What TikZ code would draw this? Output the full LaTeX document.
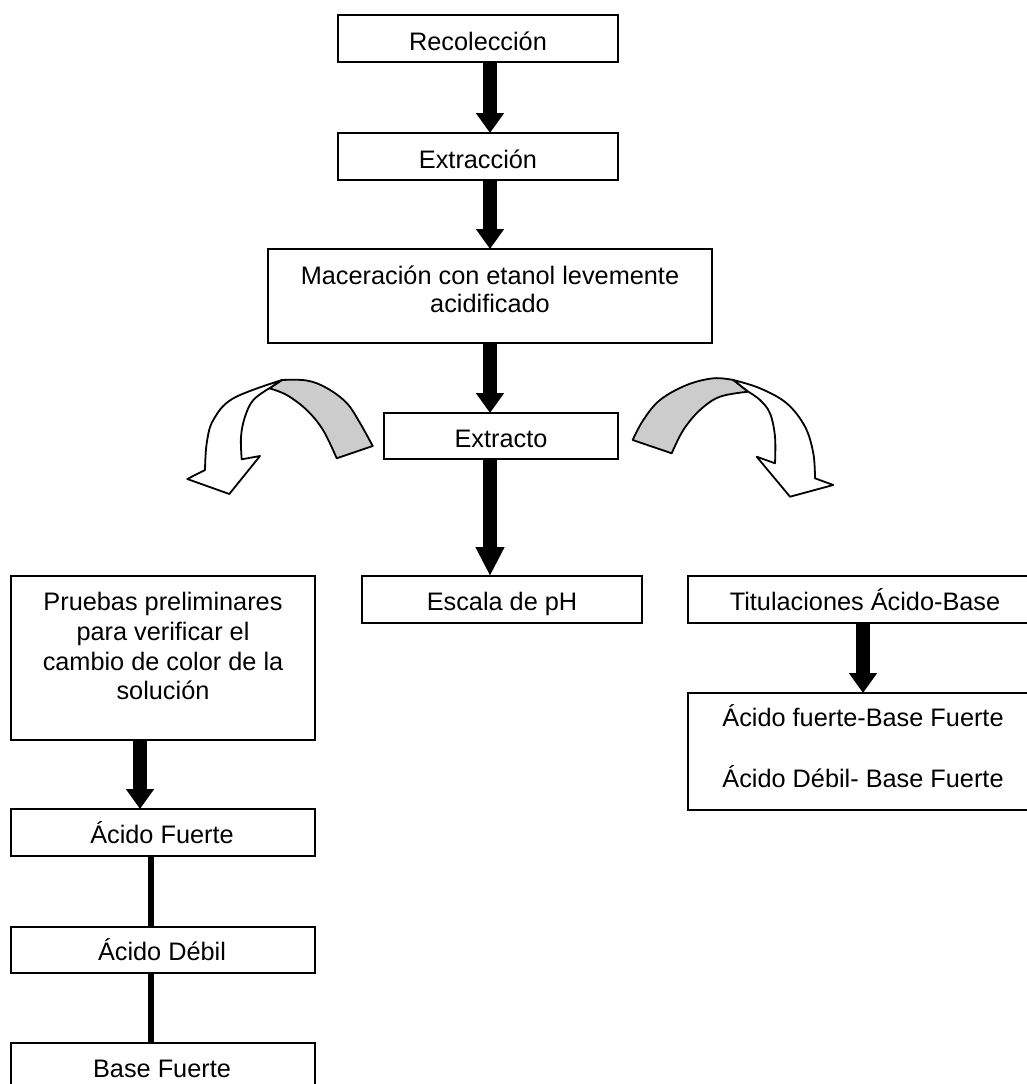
\documentclass[tikz,border=0pt]{standalone}
\usepackage{fontspec}
\setmainfont{Liberation Sans}
\usetikzlibrary{arrows.meta}
\definecolor{bandgray}{HTML}{CCCCCC}
\begin{document}
\begin{tikzpicture}[x=1pt,y=-1pt,
  box/.style={draw=black, line width=1.4pt, rectangle, inner sep=0pt, outer sep=0pt, anchor=north west},
  txt/.style={inner sep=0pt, anchor=base, font=\fontsize{25.3}{29}\selectfont},
  bigarrow/.style={line width=14pt, -{Triangle[width=27pt,length=20pt]}},
  longarrow/.style={line width=14pt, -{Triangle[width=27pt,length=29pt]}},
  link/.style={line width=6pt},
  curvy/.style={draw=black, line width=1.8pt, line join=round}]
\useasboundingbox (0,0) rectangle (1027,1084);
\clip (0,0) rectangle (1027,1084);
\fill[white] (0,0) rectangle (1027,1084);

\coordinate (cx) at (490,0);
\coordinate (lx) at (140,0);
\coordinate (kx) at (151,0);
\coordinate (rx) at (863,0);

% boxes
\node[box, minimum width=280pt, minimum height=47pt] (rec) at (338,15) {};
\node[box, minimum width=280pt, minimum height=47pt] (ext) at (338,133) {};
\node[box, minimum width=444pt, minimum height=94pt] (mac) at (268,249) {};
\node[box, minimum width=234pt, minimum height=46pt] (xto) at (384,413) {};
\node[box, minimum width=280pt, minimum height=47pt] (esc) at (362,576) {};
\node[box, minimum width=354pt, minimum height=47pt] (tit) at (688,576) {};
\node[box, minimum width=354pt, minimum height=117pt] (res) at (688,693) {};
\node[box, minimum width=304pt, minimum height=164pt] (pru) at (11,576) {};
\node[box, minimum width=304pt, minimum height=47pt] (af) at (11,809) {};
\node[box, minimum width=304pt, minimum height=46pt] (ad) at (11,927) {};
\node[box, minimum width=304pt, minimum height=47pt] (bf) at (11,1043) {};

% texts
\node[txt] (trec) at (478,50) {Recolección};
\node[txt] (text) at (478,168) {Extracción};
\node[txt] (tmac1) at (490,284) {Maceración con etanol levemente};
\node[txt] (tmac2) at (490,312) {acidificado};
\node[txt] (txto) at (501,447) {Extracto};
\node[txt] (tesc) at (502,610) {Escala de pH};
\node[txt] (ttit) at (865,610) {Titulaciones Ácido-Base};
\node[txt] (tres1) at (863,726) {Ácido fuerte-Base Fuerte};
\node[txt] (tres2) at (863,787) {Ácido Débil- Base Fuerte};
\node[txt] (tpru1) at (163,610) {Pruebas preliminares};
\node[txt] (tpru2) at (163,640) {para verificar el};
\node[txt] (tpru3) at (163,670) {cambio de color de la};
\node[txt] (tpru4) at (163,699) {solución};
\node[txt] (taf) at (162,843) {Ácido Fuerte};
\node[txt] (tad) at (162,960) {Ácido Débil};
\node[txt] (tbf) at (162,1077) {Base Fuerte};

% block arrows
\draw[bigarrow] (rec.south -| cx) -- (ext.north -| cx);
\draw[bigarrow] (ext.south -| cx) -- (mac.north -| cx);
\draw[bigarrow] (mac.south -| cx) -- (xto.north -| cx);
\draw[longarrow] (xto.south -| cx) -- (esc.north -| cx);
\draw[bigarrow] (pru.south -| lx) -- (af.north -| lx);
\draw[bigarrow] (tit.south -| rx) -- (res.north -| rx);

% plain links
\draw[link] (af.south -| kx) -- (ad.north -| kx);
\draw[link] (ad.south -| kx) -- (bf.north -| kx);

% left curved arrow
\filldraw[curvy, fill=bandgray]
  plot[smooth, tension=0.6] coordinates {(372.7,446) (360,423) (346.7,403) (326.7,388) (306.7,380.5) (282,380)}
  -- (269.3,388.3)
  -- plot[smooth, tension=0.6] coordinates {(269.3,388.3) (286.7,395) (306.7,410) (323,430) (336.7,458.3)}
  -- cycle;
\filldraw[curvy, fill=white]
  plot[smooth, tension=0.6] coordinates {(282,380) (233.3,398.3) (213.3,420) (206.7,443.3) (205,470)}
  -- (187.3,479) -- (229.3,494) -- (260,456) -- (241.7,459.3)
  -- plot[smooth, tension=0.6] coordinates {(241.7,459.3) (241,436.7) (245,416.7) (253.3,400) (269.3,388.3)}
  -- cycle;

% right curved arrow
\filldraw[curvy, fill=bandgray]
  plot[smooth, tension=0.6] coordinates {(632.7,440) (643.3,420) (660,400) (686.7,385) (713.3,378.3) (733.3,380)}
  -- (748.3,391.7)
  -- plot[smooth, tension=0.6] coordinates {(748.3,391.7) (720,396.7) (700,410) (683.3,430) (671.7,453.3)}
  -- cycle;
\filldraw[curvy, fill=white]
  plot[smooth, tension=0.6] coordinates {(733.3,380) (760,388.3) (786.7,403.3) (805,426.7) (813.3,453.3) (815,478.3)}
  -- (833.3,485) -- (790,496.7) -- (756.7,456.7) -- (775,463.3)
  -- plot[smooth, tension=0.6] coordinates {(775,463.3) (775,436.7) (770,413.3) (760,400) (748.3,391.7)}
  -- cycle;
\end{tikzpicture}
\end{document}
